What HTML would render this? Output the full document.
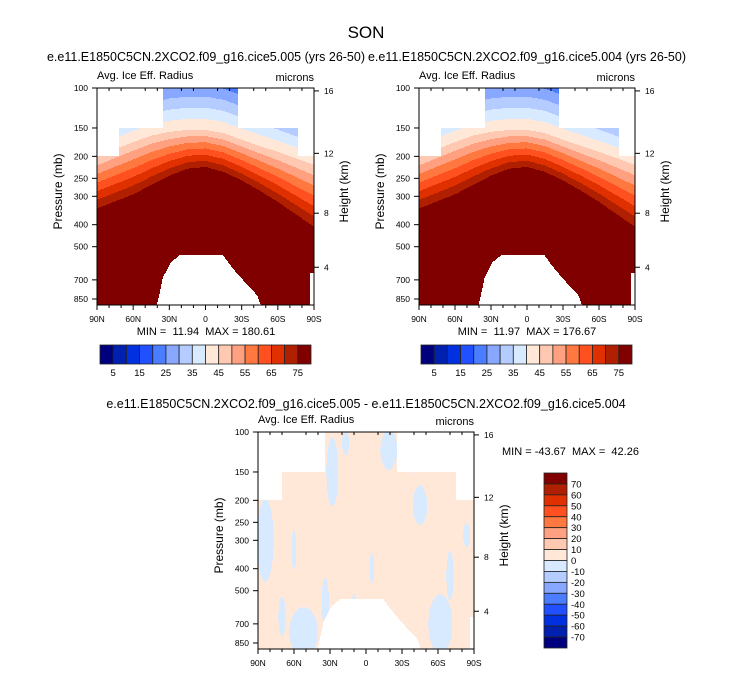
<!DOCTYPE html>
<html><head><meta charset="utf-8">
<style>
html,body{margin:0;padding:0;background:#fff;}
svg{display:block;font-family:"Liberation Sans",Arial,sans-serif;}
text{white-space:pre;}
</style></head>
<body>
<svg id="fig" width="733" height="673" viewBox="0 0 733 673" xmlns="http://www.w3.org/2000/svg">
<rect width="733" height="673" fill="#fff"/>
<text x="366" y="38" font-size="17" text-anchor="middle">SON</text>
<text x="206" y="61" font-size="12.5" text-anchor="middle">e.e11.E1850C5CN.2XCO2.f09_g16.cice5.005 (yrs 26-50)</text>
<text x="527" y="61" font-size="12.5" text-anchor="middle">e.e11.E1850C5CN.2XCO2.f09_g16.cice5.004 (yrs 26-50)</text>
<text x="366" y="408" font-size="12.5" text-anchor="middle">e.e11.E1850C5CN.2XCO2.f09_g16.cice5.005 - e.e11.E1850C5CN.2XCO2.f09_g16.cice5.004</text>
<g id="panels"></g>
</svg>
<script>
// ---- data ----
const colors = ["#00007e","#0020b0","#0030e0","#2050ff","#4a7dff","#88a8ff","#b4ccff","#d8eaff","#ffe8d8","#ffc8b0","#ffa080","#ff7840","#ff5020","#e03000","#b02000","#800000"];
const cbLabels = ["5","15","25","35","45","55","65","75"];
const diffLabels = ["70","60","50","40","30","20","10","0","-10","-20","-30","-40","-50","-60","-70"];
const pTicks = [100,150,200,250,300,400,500,700,850];
const hTicks = [16,12,8,4];
const hTickP = [103,194,356,616];
const latTicks = [90,60,30,0,-30,-60,-90];
const latTickLabels = ["90N","60N","30N","0","30S","60S","90S"];
// field: pressure (mb) of value-40 contour and value-75 contour per latitude
const fieldLats = [90,75,60,45,30,15,0,-15,-30,-45,-60,-75,-90];
const p40 = [201,186,173,162,156,153,153,158,169,180,191,204,218];
const p75 = [370,345,321,290,262,242,237,250,273,305,345,395,453];
// upper data mask (data present below this pressure)
const topMaskLat = [90,72,35,-27,-77,-90];
const topMaskP = [200,150,100,150,200];
const diffTopMaskLat = [90,70,34,-26,-75,-90];
// topography (ground polygon)
const groundLat = [42,40,35.3,28.6,21.2,-14.5,-19.5,-31,-42.7,-49.3];
const groundP = [1000,885,680,584,544,544,593,700,816,1000];
const poleGroundP = 650;
// difference-field negative patches: lat centre, p centre, lat half-width, ln-p half-height
const patchLat = [84,28,17,-19,-45,52,34,-62,-84,-5,60,-70,-40,10,70];
const patchP = [300,150,112,120,210,760,560,700,285,400,330,430,130,600,650];
const patchLatR = [7,5,3,7,6,12,3,10,3,2,2,3,4,2,3];
const patchLnR = [0.42,0.35,0.12,0.2,0.2,0.25,0.25,0.3,0.12,0.15,0.2,0.25,0.15,0.15,0.2];
const minmaxL = "MIN =  11.94  MAX = 180.61";
const minmaxR = "MIN =  11.97  MAX = 176.67";
const minmaxD = "MIN = -43.67  MAX =  42.26";

const NS = "http://www.w3.org/2000/svg";
const root = document.getElementById("panels");
function mk(tag, attrs, parent){const e=document.createElementNS(NS,tag);for(const k in attrs)e.setAttribute(k,attrs[k]);(parent||root).appendChild(e);return e;}
function interp(xs, ys, x){
  if(x>=xs[0])return ys[0]; if(x<=xs[xs.length-1])return ys[ys.length-1];
  for(let i=0;i<xs.length-1;i++){if(x<=xs[i]&&x>=xs[i+1]){const t=(x-xs[i])/(xs[i+1]-xs[i]);return ys[i]+t*(ys[i+1]-ys[i]);}}
}
function topMask(lat, lats){for(let i=0;i<lats.length-1;i++){if(lat<=lats[i]&&lat>=lats[i+1])return topMaskP[i];}return 200;}
function groundTop(lat){
  if(lat<=-87)return poleGroundP;
  if(lat>groundLat[0]||lat<groundLat[groundLat.length-1])return 2000;
  return interp(groundLat, groundP, lat);
}
function valueTop(lat,p){
  const a=Math.log(interp(fieldLats,p40,lat)), b=Math.log(interp(fieldLats,p75,lat)), u=Math.log(p);
  if(u>=b)return 80;
  if(u>=a)return 40+35*(u-a)/(b-a);
  return 40-(a-u)*98.6*0.45;
}
function colorIdx(v){return Math.max(0,Math.min(15,Math.floor(v/5)+1));}
function valueDiff(lat,p){
  const u=Math.log(p);
  for(let i=0;i<patchLat.length;i++){
    const dx=(lat-patchLat[i])/patchLatR[i], dy=(u-Math.log(patchP[i]))/patchLnR[i];
    if(dx*dx+dy*dy<=1)return -5;
  }
  return 5;
}

function panel(name,x0,y0,w,h,mode){
  const g=mk("g",{});
  const pMax=100*Math.exp(h/98.6);
  const yOf=p=>y0+Math.log(p/100)/Math.log(pMax/100)*h;
  const xOf=lat=>x0+(90-lat)/180*w;
  const field=mk("g",{"shape-rendering":"crispEdges"},g);
  for(let c=0;c<w;c++){
    const lat=90-(c+0.5)/w*180;
    const tm=topMask(lat, mode==="diff"?diffTopMaskLat:topMaskLat);
    const gt=groundTop(lat);
    let runC=null,runStart=0;
    for(let r=0;r<=h;r++){
      let col=null;
      if(r<h){
        const p=100*Math.pow(pMax/100,(r+0.5)/h);
        if(p>=tm && p<gt){
          if(mode==="diff"){col=valueDiff(lat,p)<0?colors[7]:colors[8];}
          else col=colors[colorIdx(valueTop(lat,p))];
        }
      }
      if(col!==runC){
        if(runC){mk("rect",{x:x0+c,y:y0+runStart,width:1.2,height:r-runStart,fill:runC},field);}
        runC=col;runStart=r;
      }
    }
  }
  mk("rect",{x:x0,y:y0,width:w,height:h,fill:"none",stroke:"#000","stroke-width":1,},g);
  const la=mk("g",{},g);
  pTicks.forEach(p=>{const y=yOf(p);mk("line",{x1:x0-5,x2:x0,y1:y,y2:y,stroke:"#000"},la);
    const t=mk("text",{x:x0-9,y:y+3,"font-size":8.5,"text-anchor":"end"},la);t.textContent=p;});
  const yl=mk("text",{x:0,y:0,"font-size":12,"text-anchor":"middle",transform:`translate(${x0-35},${y0+h/2-5}) rotate(-90)`,},g);yl.textContent="Pressure (mb)";
  const ra=mk("g",{},g);
  hTicks.forEach((hk,i)=>{const y=yOf(hTickP[i]);mk("line",{x1:x0+w,x2:x0+w+5,y1:y,y2:y,stroke:"#000"},ra);
    const t=mk("text",{x:x0+w+10,y:y+3,"font-size":8.5},ra);t.textContent=hk;});
  const hl=mk("text",{x:0,y:0,"font-size":12,"text-anchor":"middle",transform:`translate(${x0+w+34},${y0+h/2-5}) rotate(-90)`,},g);hl.textContent="Height (km)";
  const xa=mk("g",{},g);
  for(let lat=90;lat>=-90;lat-=10){const x=xOf(lat);const major=lat%30===0;
    mk("line",{x1:x,x2:x,y1:y0+h,y2:y0+h+(major?5:3),stroke:"#000"},xa);
    if(!major)mk("line",{x1:x,x2:x,y1:y0,y2:y0+3,stroke:"#000"},xa);}
  latTicks.forEach((lat,i)=>{const t=mk("text",{x:xOf(lat),y:y0+h+17,"font-size":8.5,"text-anchor":"middle"},xa);t.textContent=latTickLabels[i];});
  const lt=mk("text",{x:x0,y:y0-9,"font-size":11,},g);lt.textContent="Avg. Ice Eff. Radius";
  const ut=mk("text",{x:x0+w,y:y0-7,"font-size":11,"text-anchor":"end",},g);ut.textContent="microns";
  return g;
}
function hbar(name,x0,y0,w,h){
  const g=mk("g",{});
  const bw=w/colors.length;
  colors.forEach((c,i)=>{const r=mk("rect",{x:x0+i*bw,y:y0,width:bw,height:h,fill:c,stroke:"#222","stroke-width":0.8},g);
    
    });
  cbLabels.forEach((l,i)=>{const t=mk("text",{x:x0+(2*i+1)*bw,y:y0+h+12,"font-size":9.5,"text-anchor":"middle"},g);t.textContent=l;});
}
function vbar(name,x0,y0,w,h){
  const g=mk("g",{});
  const bh=h/colors.length;
  colors.slice().reverse().forEach((c,i)=>{const r=mk("rect",{x:x0,y:y0+i*bh,width:w,height:bh,fill:c,stroke:"#222","stroke-width":0.8},g);
    
    });
  diffLabels.forEach((l,i)=>{const t=mk("text",{x:x0+w+4,y:y0+(i+1)*bh+3.5,"font-size":9.5},g);t.textContent=l;});
}
panel("left-panel",97,88,217,217,"top");
panel("right-panel",419,88,216,217,"top");
panel("diff-panel",258,432,216,217,"diff");
hbar("left-colorbar",100,345,211,19);
hbar("right-colorbar",421,345,211,19);
vbar("diff-colorbar",544,473,23,175);
function txt(name,x,y,s,anchor){const t=mk("text",{x:x,y:y,"font-size":11,"text-anchor":anchor||"middle",});t.textContent=s;}
txt("left-min-max",206,335,minmaxL);
txt("right-min-max",527,335,minmaxR);
txt("diff-min-max",502,455,minmaxD,"start");
</script>
</body></html>
